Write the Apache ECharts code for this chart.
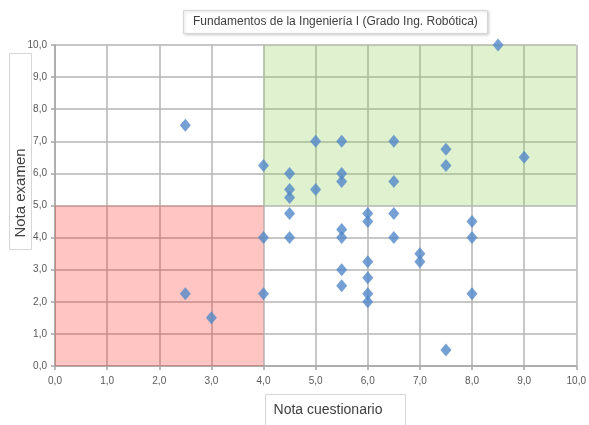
<!DOCTYPE html>
<html>
<head>
<meta charset="utf-8">
<title>Fundamentos de la Ingeniería I</title>
<script src="https://cdn.jsdelivr.net/npm/echarts@6/dist/echarts.min.js"></script>
<style>
  html, body { margin: 0; padding: 0; background: #fff; }
  #chart { width: 589px; height: 425px; }
</style>
</head>
<body>
<div id="chart"></div>
<script>
// Nota cuestionario (x) and Nota examen (y) for each student
const notaCuestionario = [
  8.5, 2.5, 4, 4.5, 4.5, 4.5, 5, 5, 5.5, 5.5,
  5.5, 6.5, 6.5, 7.5, 7.5, 9, 4.5, 4.5, 4, 4,
  2.5, 3, 5.5, 5.5, 5.5, 5.5, 6, 6, 6, 6,
  6, 6, 6.5, 6.5, 7, 7, 8, 8, 8, 7.5
];
const notaExamen = [
  10, 7.5, 6.25, 6, 5.5, 5.25, 7, 5.5, 7, 6,
  5.75, 7, 5.75, 6.75, 6.25, 6.5, 4.75, 4, 4, 2.25,
  2.25, 1.5, 4.25, 4, 3, 2.5, 4.75, 4.5, 3.25, 2.75,
  2.25, 2, 4.75, 4, 3.5, 3.25, 4.5, 4, 2.25, 0.5
];

// Highlighted zones: [xFrom, xTo] and [yFrom, yTo]
const zonaAprobadoX = [4, 10];
const zonaAprobadoY = [5, 10];
const zonaSuspensoX = [0, 4];
const zonaSuspensoY = [0, 5];

// Axis scale
const ejeMin = 0;
const ejeMax = 10;
const ejePaso = 1;

const titulo = 'Fundamentos de la Ingeniería I (Grado Ing. Robótica)';
const nombreX = 'Nota cuestionario';
const nombreY = 'Nota examen';

const puntos = notaCuestionario.map((x, i) => [x, notaExamen[i]]);

const fuenteEjes = '"Liberation Sans", Arial, sans-serif';
const fmt = v => v.toFixed(1).replace('.', ',');

const ejeComun = {
  type: 'value',
  min: ejeMin,
  max: ejeMax,
  interval: ejePaso,
  axisLine: { show: true, lineStyle: { color: '#A6A6A6', width: 1.5 } },
  axisTick: { show: true, length: 4, lineStyle: { color: '#A6A6A6', width: 1.5 } },
  splitLine: { show: true, lineStyle: { color: '#B4B4B4', width: 1.5 } },
  axisLabel: {
    formatter: fmt,
    color: '#595959',
    fontSize: 10,
    fontFamily: fuenteEjes
  }
};

const chart = echarts.init(document.getElementById('chart'), null, { renderer: 'canvas' });

chart.setOption({
  animation: false,
  backgroundColor: '#ffffff',
  title: {
    text: titulo,
    left: 183,
    top: 10,
    padding: [6, 10, 6, 10],
    backgroundColor: '#ffffff',
    borderColor: '#D6D6D6',
    borderWidth: 1,
    shadowColor: 'rgba(0,0,0,0.18)',
    shadowBlur: 3,
    shadowOffsetX: 1,
    shadowOffsetY: 1,
    textStyle: {
      fontFamily: fuenteEjes,
      fontSize: 12,
      fontWeight: 'normal',
      color: '#404040'
    }
  },
  grid: { left: 55, right: 10, top: 45, bottom: 59, containLabel: false },
  xAxis: Object.assign({}, ejeComun, {
    axisLabel: Object.assign({}, ejeComun.axisLabel, { margin: 10 })
  }),
  yAxis: Object.assign({}, ejeComun, {
    axisLabel: Object.assign({}, ejeComun.axisLabel, { margin: 8 })
  }),
  graphic: [
    {
      type: 'group',
      children: [
        {
          type: 'rect',
          shape: { x: 9.5, y: 53.5, width: 22, height: 196 },
          style: { fill: '#ffffff', stroke: '#D6D6D6', lineWidth: 1 }
        },
        {
          type: 'text',
          x: 20.5,
          y: 193,
          rotation: Math.PI / 2,
          style: {
            text: nombreY,
            font: '15px "Liberation Sans", Arial, sans-serif',
            fill: '#404040',
            align: 'center',
            verticalAlign: 'middle'
          }
        }
      ]
    },
    {
      type: 'group',
      children: [
        {
          type: 'rect',
          shape: { x: 265.5, y: 394.5, width: 140, height: 40 },
          style: { fill: '#ffffff', stroke: '#D6D6D6', lineWidth: 1 }
        },
        {
          type: 'text',
          x: 328,
          y: 410,
          style: {
            text: nombreX,
            font: '14px "Liberation Sans", Arial, sans-serif',
            fill: '#404040',
            align: 'center',
            verticalAlign: 'middle'
          }
        }
      ]
    }
  ],
  series: [
    {
      name: 'Alumnos',
      type: 'scatter',
      z: 2,
      symbol: 'diamond',
      symbolSize: [11, 13],
      itemStyle: { color: '#5288C8' },
      data: puntos
    },
    {
      // translucent zones laid over grid and points
      name: 'Zonas',
      type: 'scatter',
      z: 5,
      silent: true,
      data: [],
      markArea: {
        silent: true,
        label: { show: false },
        data: [
          [
            { coord: [zonaAprobadoX[0], zonaAprobadoY[0]], itemStyle: { color: 'rgba(140,205,80,0.28)' } },
            { coord: [zonaAprobadoX[1], zonaAprobadoY[1]] }
          ],
          [
            { coord: [zonaSuspensoX[0], zonaSuspensoY[0]], itemStyle: { color: 'rgba(255,30,20,0.26)' } },
            { coord: [zonaSuspensoX[1], zonaSuspensoY[1]] }
          ]
        ]
      }
    }
  ]
});
</script>
</body>
</html>
